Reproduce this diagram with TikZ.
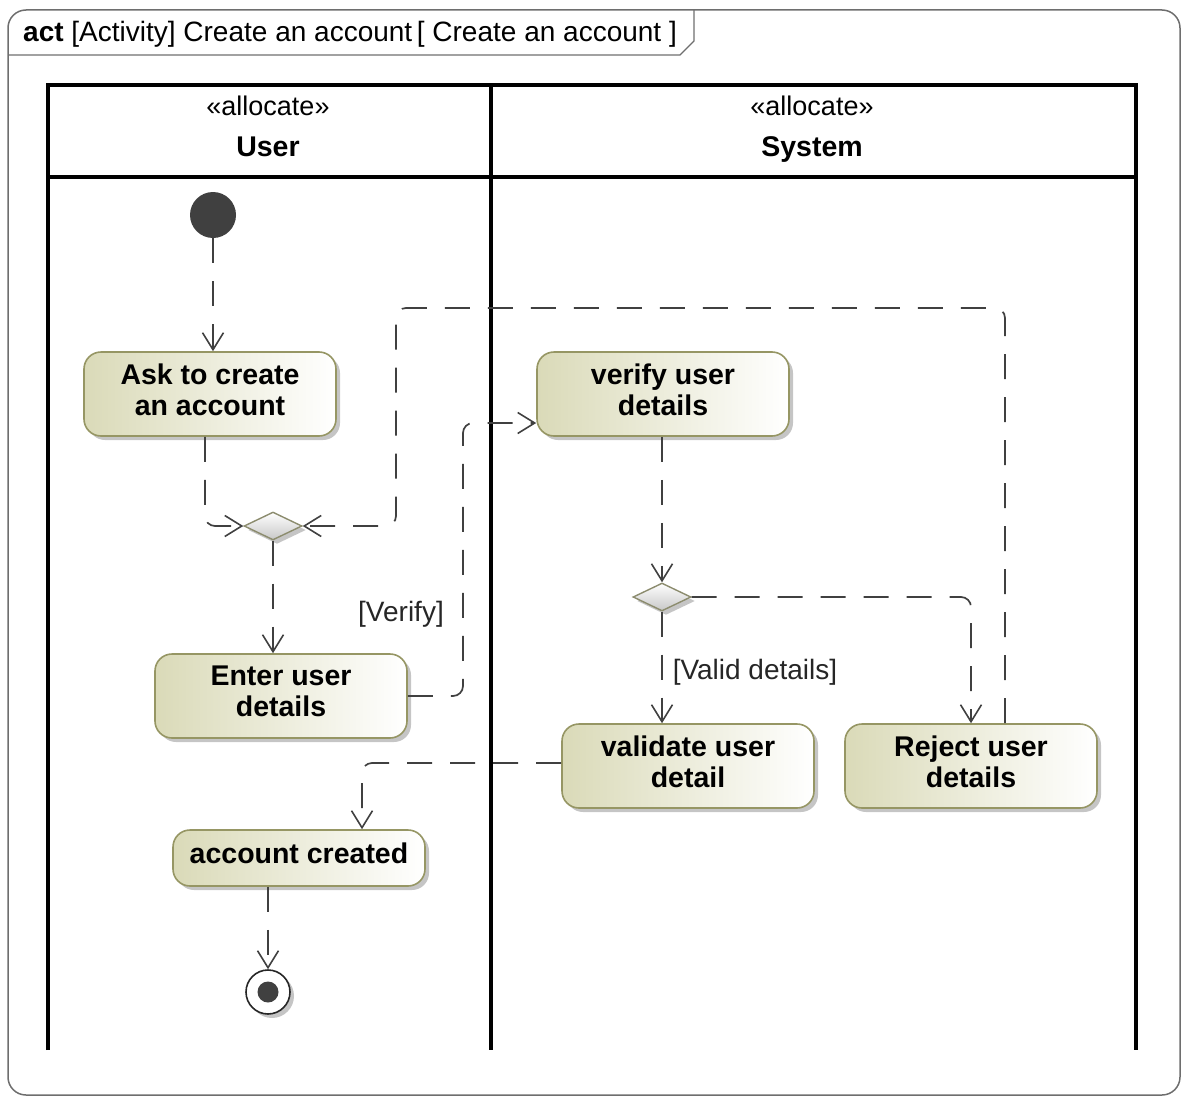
\documentclass[tikz,border=0pt]{standalone}
\usepackage{fontspec}
\setmainfont{Liberation Sans}
\usetikzlibrary{arrows.meta,shapes.geometric,shadows}

\definecolor{framegray}{RGB}{110,110,110}
\definecolor{flowgray}{RGB}{64,64,64}
\definecolor{nodefill}{RGB}{218,218,184}
\definecolor{nodeline}{RGB}{150,150,100}
\definecolor{dotgray}{RGB}{64,64,64}
\definecolor{diamline}{RGB}{140,140,110}

\tikzset{
  action/.style={draw=nodeline, line width=1.6pt, rounded corners=17pt,
    left color=nodefill, right color=white,
    minimum width=252pt, minimum height=84pt, inner sep=0pt, align=center,
    text depth=9pt,
    font=\bfseries\fontsize{28.5}{31}\selectfont,
    drop shadow={shadow xshift=4pt, shadow yshift=-4pt, fill=black!45, opacity=0.5}},
  decision/.style={diamond, draw=diamline, line width=1.4pt, inner sep=0pt,
    minimum width=58pt, minimum height=28pt,
    top color=white, bottom color=black!22,
    drop shadow={shadow xshift=4pt, shadow yshift=-4pt, fill=black!45, opacity=0.5}},
  initnode/.style={circle, fill=dotgray, minimum size=46pt, inner sep=0pt},
  finalnode/.style={circle, draw=black!85, line width=1.6pt, fill=white,
    minimum size=44pt, inner sep=0pt,
    drop shadow={shadow xshift=4pt, shadow yshift=-4pt, fill=black!45, opacity=0.5}},
  flow/.style={draw=flowgray, line width=1.7pt, dash pattern=on 25pt off 18pt,
    -{Straight Barb[length=17pt,width=21pt,line width=1.6pt]}},
  guard/.style={font=\fontsize{28}{30}\selectfont, text=black!85, inner sep=0pt},
  lane/.style={line width=3.2pt, black},
  stereo/.style={font=\fontsize{27}{30}\selectfont, inner sep=0pt, anchor=base},
  lanename/.style={font=\bfseries\fontsize{28.5}{30}\selectfont, inner sep=0pt, anchor=base},
}

\begin{document}
\begin{tikzpicture}[x=1pt,y=-1pt]
\useasboundingbox (0,0) rectangle (1182,1097);

% diagram frame and its name tab
\draw[framegray, line width=1.5pt, rounded corners=18pt] (8,10) rectangle (1180,1095);
\draw[framegray, line width=1.3pt] (8,55) -- (680,55) -- (694,41) -- (694,10);
\node[anchor=base west, inner sep=0pt, font=\fontsize{28}{30}\selectfont] (title) at (23,42)
  {\textbf{act} [Activity] Create an account\,[ Create an account ]};

% swimlanes
\draw[lane] (48,1050) -- (48,85) -- (1136,85) -- (1136,1050);
\draw[lane] (48,177) -- (1136,177);
\draw[lane] (491,85) -- (491,1050);
\node[stereo] (stUser) at (268,116) {«allocate»};
\node[lanename] (User) at (268,156) {User};
\node[stereo] (stSys) at (812,116) {«allocate»};
\node[lanename] (Sys) at (812,156) {System};

% activity nodes
\node[initnode] (init) at (213,215) {};
\node[action] (ask) at (210,394) {Ask to create\\an account};
\node[decision] (merge) at (273,526) {};
\node[action] (enter) at (281,696) {Enter user\\details};
\node[action] (verify) at (663,394) {verify user\\details};
\node[decision] (dec) at (662,597) {};
\node[action] (valid) at (688,766) {validate user\\detail};
\node[action] (reject) at (971,766) {Reject user\\details};
\node[action, minimum height=56pt] (acc) at (299,858) {account created};
\node[finalnode] (final) at (268,992) {};
\fill[dotgray] (final.center) circle (10.5pt);

% guard labels
\node[guard] (gVerify) at (401,614) {[Verify]};
\node[guard] (gValid) at (755,672) {[Valid details]};

% loop back corners
\coordinate (loopR) at (1005,308);
\coordinate (loopL) at (396,308);
\coordinate (toVerify) at (463,423);

% control flows
\draw[flow] (init) -- (ask.north -| init);
\draw[flow, rounded corners=10pt] ([xshift=-5pt]ask.south) |- (merge.west);
\draw[flow, rounded corners=10pt] (reject.north -| loopR) -- (loopR) -- (loopL) |- (merge.east);
\draw[flow] (merge.south) -- (enter.north -| merge.south);
\draw[flow, rounded corners=10pt] (enter.east) -| (toVerify) -- (verify.west |- toVerify);
\draw[flow] (verify.south -| dec) -- (dec.north);
\draw[flow] (dec.south) -- (valid.north -| dec.south);
\draw[flow, rounded corners=10pt] (dec.east) -| (reject.north);
\draw[flow, rounded corners=10pt] ([yshift=3pt]valid.west) -| ([xshift=63pt]acc.north);
\draw[flow] (acc.south -| final) -- (final.north);
\end{tikzpicture}
\end{document}
